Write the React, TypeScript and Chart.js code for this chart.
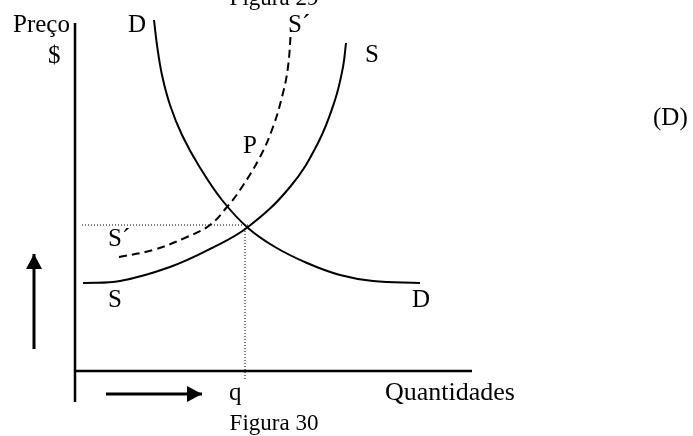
import React, { useEffect, useRef } from "react";
import { Chart, registerables } from "chart.js";

Chart.register(...registerables);

// Axis extents (quantity / price units, origin at the axes' crossing)
const quantityAxisEnd = 397;
const priceAxisTop = 348;
const priceAxisBottom = -31;

// Demand curve D
const demandQ = [79, 82, 87, 95, 107, 124, 147, 173, 200, 232, 265, 298, 345];
const demandP = [351, 326, 296, 266, 236, 205, 171, 143, 124, 108, 96, 90, 88];

// Supply curve S
const supplyQ = [8, 45, 95, 135, 173, 215, 243, 260, 268, 271];
const supplyP = [88, 90, 104, 122, 144, 184, 228, 271, 304, 328];

// Shifted supply curve S´ (dashed)
const supply2Q = [44, 78, 112, 135, 152, 165, 185, 198, 208, 213, 216];
const supply2P = [114, 121, 134, 146, 164, 181, 214, 244, 278, 304, 341];

// Equilibrium guides
const eqQ = 170;
const eqP = 146;
const guideStartQ = 7;
const guideEndP = -10;

// Direction arrows
const upArrowQ = -41;
const upArrowP = [22, 117];
const rightArrowP = -23;
const rightArrowQ = [31, 127];

// Text labels (anchor / baseline in data units)
const labelTexts = ["Figura 29", "Preço", "D", "S´", "$", "S", "(D)", "P", "S´", "S", "D", "q", "Quantidades", "Figura 30"];
const labelQ = [199, -62, 53, 213, -27, 290, 578, 168, 33, 33, 337, 154, 310, 199];
const labelP = [366, 339, 339, 339, 308, 309, 246, 218, 125, 64, 64, -29, -29, -59];
const labelAlign = ["center", "left", "left", "left", "left", "left", "left", "left", "left", "left", "left", "left", "left", "center"];
const labelSize = [23, 25, 25, 25, 25, 25, 25, 25, 25, 25, 25, 25, 26, 23];

const zip = (xs: number[], ys: number[]) => xs.map((x, i) => ({ x, y: ys[i] }));

const labelPlugin = {
  id: "textLabels",
  afterDatasetsDraw(chart: any) {
    const { ctx, scales } = chart;
    ctx.save();
    ctx.fillStyle = "#000";
    ctx.textBaseline = "alphabetic";
    labelTexts.forEach((t, i) => {
      ctx.font = `${labelSize[i]}px 'Liberation Serif', 'Times New Roman', serif`;
      ctx.textAlign = labelAlign[i] as CanvasTextAlign;
      ctx.fillText(t, scales.x.getPixelForValue(labelQ[i]), scales.y.getPixelForValue(labelP[i]));
    });
    ctx.restore();
  },
};

const arrowPlugin = {
  id: "arrowHeads",
  afterDatasetsDraw(chart: any) {
    const { ctx } = chart;
    chart.data.datasets.forEach((ds: any, i: number) => {
      if (!ds.arrow) return;
      const pts = chart.getDatasetMeta(i).data;
      const a = pts[pts.length - 2];
      const b = pts[pts.length - 1];
      const ang = Math.atan2(b.y - a.y, b.x - a.x);
      const len = 15;
      const half = 8;
      ctx.save();
      ctx.translate(b.x, b.y);
      ctx.rotate(ang);
      ctx.beginPath();
      ctx.moveTo(0, 0);
      ctx.lineTo(-len, -half);
      ctx.lineTo(-len, half);
      ctx.closePath();
      ctx.fillStyle = "#000";
      ctx.fill();
      ctx.restore();
    });
  },
};

export default function App() {
  const ref = useRef<HTMLCanvasElement>(null);
  useEffect(() => {
    if (!ref.current) return;
    const base = { showLine: true, pointRadius: 0, borderColor: "#000", backgroundColor: "#000", fill: false };
    const chart = new Chart(ref.current, {
      type: "scatter",
      data: {
        datasets: [
          { ...base, label: "axisY", data: [{ x: 0, y: priceAxisBottom }, { x: 0, y: priceAxisTop }], borderWidth: 2.5 },
          { ...base, label: "axisX", data: [{ x: 0, y: 0 }, { x: quantityAxisEnd, y: 0 }], borderWidth: 2.5 },
          { ...base, label: "guideH", data: [{ x: guideStartQ, y: eqP }, { x: eqQ + 3, y: eqP }], borderWidth: 1, borderDash: [1, 2] },
          { ...base, label: "guideV", data: [{ x: eqQ, y: eqP - 3 }, { x: eqQ, y: guideEndP }], borderWidth: 1, borderDash: [1, 2] },
          { ...base, label: "D", data: zip(demandQ, demandP), borderWidth: 2, tension: 0.4 },
          { ...base, label: "S", data: zip(supplyQ, supplyP), borderWidth: 2, tension: 0.4 },
          { ...base, label: "S´", data: zip(supply2Q, supply2P), borderWidth: 2, borderDash: [8, 5], tension: 0.4 },
          { ...base, label: "up", arrow: true, data: [{ x: upArrowQ, y: upArrowP[0] }, { x: upArrowQ, y: upArrowP[1] - 10 }, { x: upArrowQ, y: upArrowP[1] }], borderWidth: 3 } as any,
          { ...base, label: "right", arrow: true, data: [{ x: rightArrowQ[0], y: rightArrowP }, { x: rightArrowQ[1] - 10, y: rightArrowP }, { x: rightArrowQ[1], y: rightArrowP }], borderWidth: 3 } as any,
        ],
      },
      options: {
        animation: false,
        responsive: false,
        maintainAspectRatio: false,
        layout: { padding: 0 },
        clip: false as any,
        plugins: { legend: { display: false }, tooltip: { enabled: false } },
        scales: {
          x: { type: "linear", min: -75, max: 618, display: false },
          y: { type: "linear", min: -65, max: 371, display: false },
        },
      },
      plugins: [labelPlugin, arrowPlugin],
    });
    return () => chart.destroy();
  }, []);
  return (
    <div style={{ position: "fixed", left: 0, top: 0, width: 693, height: 436, background: "#fff" }}>
      <canvas ref={ref} width={693} height={436} style={{ display: "block" }} />
    </div>
  );
}
